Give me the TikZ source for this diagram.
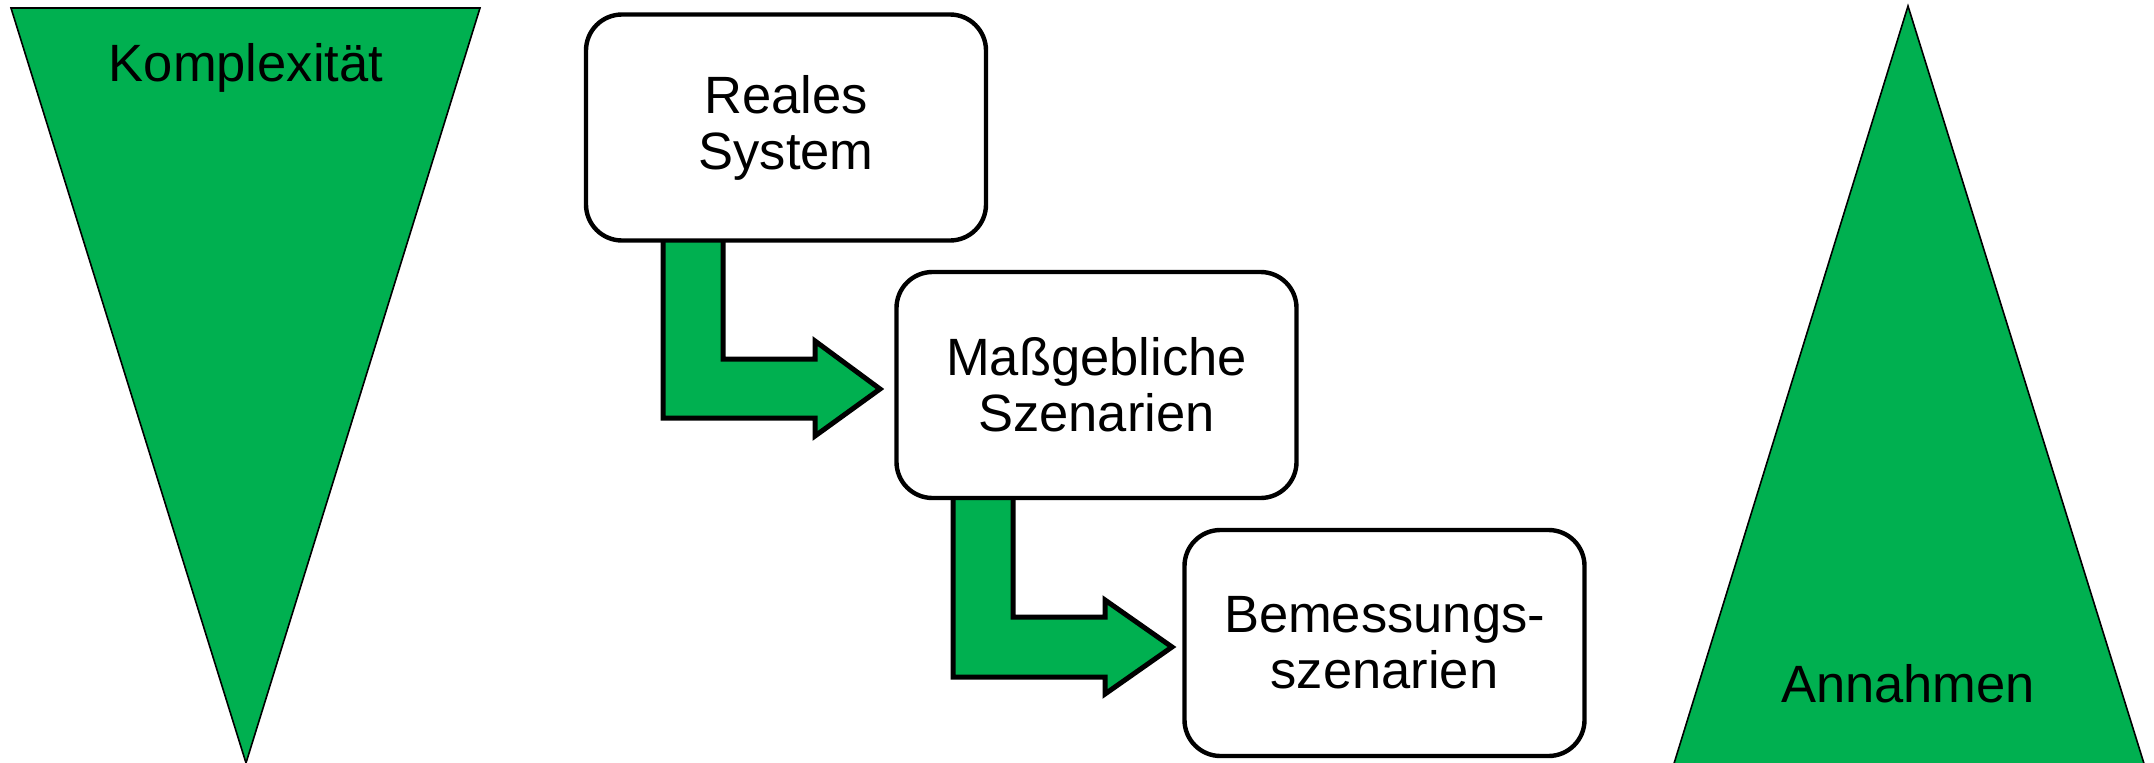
\documentclass[tikz,border=0pt]{standalone}
\usepackage{fontspec}
\setmainfont{Liberation Sans}
\definecolor{pptgreen}{HTML}{00B050}
\begin{document}
\begin{tikzpicture}[x=1bp,y=-1bp,
  stepbox/.style={draw, line width=4.4bp, rounded corners=36bp, fill=white,
    minimum width=400bp, minimum height=226bp, align=center, inner sep=0pt,
    font=\fontsize{52.5bp}{56bp}\selectfont},
  bentarrow/.style={draw, line width=5bp, fill=pptgreen, line join=miter},
  wedge/.style={draw, line width=1.6bp, fill=pptgreen},
  lbl/.style={font=\fontsize{52.5bp}{56bp}\selectfont, anchor=base, inner sep=0pt}]
\useasboundingbox (0,0) rectangle (2154,763);

% side wedges
\draw[wedge] (11,8) -- (480,8) -- (246,763) -- cycle;
\draw[wedge] (1908,6) -- (2146,770) -- (1672,770) -- cycle;
\node[lbl] (komplex) at (246,82) {Komplexität};
\node[lbl] (annahmen) at (1908,702) {Annahmen};

% bent block arrows (drawn first, their tops disappear under the boxes)
\draw[bentarrow] (663,225) -- (663,418) -- (815,418) -- (815,436) -- (880,389)
  -- (815,341) -- (815,359) -- (723,359) -- (723,225) -- cycle;
\draw[bentarrow] (953,485) -- (953,677) -- (1105,677) -- (1105,694) -- (1172,647)
  -- (1105,600) -- (1105,617) -- (1013,617) -- (1013,485) -- cycle;

% process boxes
\node[stepbox] (b1) at (786,127.5) {Reales\\System};
\node[stepbox] (b2) at (1096.5,385) {Maßgebliche\\Szenarien};
\node[stepbox] (b3) at (1384.5,643) {Bemessungs-\\szenarien};
\end{tikzpicture}
\end{document}
